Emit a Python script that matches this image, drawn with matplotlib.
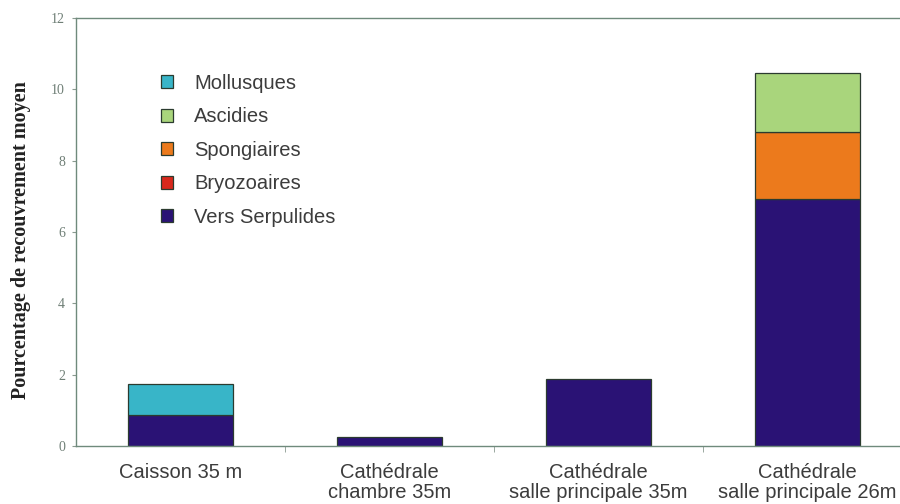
import numpy as np
import matplotlib
matplotlib.use("Agg")
import matplotlib.pyplot as plt
from matplotlib.patches import Patch

sites = ["Caisson 35 m", "Cathédrale\nchambre 35m",
         "Cathédrale\nsalle principale 35m", "Cathédrale\nsalle principale 26m"]

vers_serpulides = [0.88, 0.25, 1.88, 6.92]
bryozoaires = [0.0, 0.0, 0.0, 0.0]
spongiaires = [0.0, 0.0, 0.0, 1.88]
ascidies = [0.0, 0.0, 0.0, 1.66]
mollusques = [0.85, 0.0, 0.0, 0.0]

series = [
    ("Vers Serpulides", vers_serpulides, "#2a1275"),
    ("Bryozoaires", bryozoaires, "#d8281c"),
    ("Spongiaires", spongiaires, "#ec7a1c"),
    ("Ascidies", ascidies, "#a9d57c"),
    ("Mollusques", mollusques, "#38b5c8"),
]

fig = plt.figure(figsize=(9, 5.04), dpi=100)
ax = fig.add_axes([76 / 900, 58 / 504, 836 / 900, 428 / 504])

x = np.arange(len(sites))
bottom = np.zeros(len(sites))
edge = "#2b3b2f"
for name, vals, color in series:
    vals = np.asarray(vals, dtype=float)
    mask = vals > 0
    ax.bar(x[mask], vals[mask], bottom=bottom[mask], width=0.5, color=color,
           edgecolor=edge, linewidth=0.9)
    bottom += vals

ax.set_xlim(-0.5, len(sites) - 0.5)
ax.set_ylim(0, 12)
ax.set_yticks(np.arange(0, 13, 2))
ax.set_yticklabels([str(v) for v in range(0, 13, 2)],
                   fontfamily="Liberation Serif", fontsize=10, color="#6f7f76")
ax.set_xticks(x)
ax.set_xticklabels(sites, fontfamily="Liberation Sans", fontsize=14.5, color="#3c3c3c",
                   linespacing=1.1)
ax.tick_params(axis="x", length=0, pad=12)
ax.set_xticks(np.arange(0.5, len(sites) - 0.5, 1), minor=True)
ax.tick_params(axis="x", which="minor", length=4, color="#8a9a90", direction="out")
ax.tick_params(axis="y", length=3, color="#8a9a90", pad=5)

for s in ax.spines.values():
    s.set_color("#6f8a7c")
    s.set_linewidth(1.0)

ax.set_ylabel("Pourcentage de recouvrement moyen", fontfamily="Liberation Serif",
              fontweight="bold", fontsize=14.5, color="#222222")
ax.yaxis.set_label_coords(-0.054, 0.48)

handles = [Patch(facecolor=c, edgecolor=edge, linewidth=0.9, label=n)
           for n, _, c in reversed(series)]
leg = ax.legend(handles=handles, loc="upper left", bbox_to_anchor=(0.08, 0.912),
                frameon=False, prop={"family": "Liberation Sans", "size": 14.5},
                handlelength=0.6, handleheight=0.6, handletextpad=1.05,
                labelspacing=0.72)
for t in leg.get_texts():
    t.set_color("#3c3c3c")

fig.savefig("out.png", dpi=100)
